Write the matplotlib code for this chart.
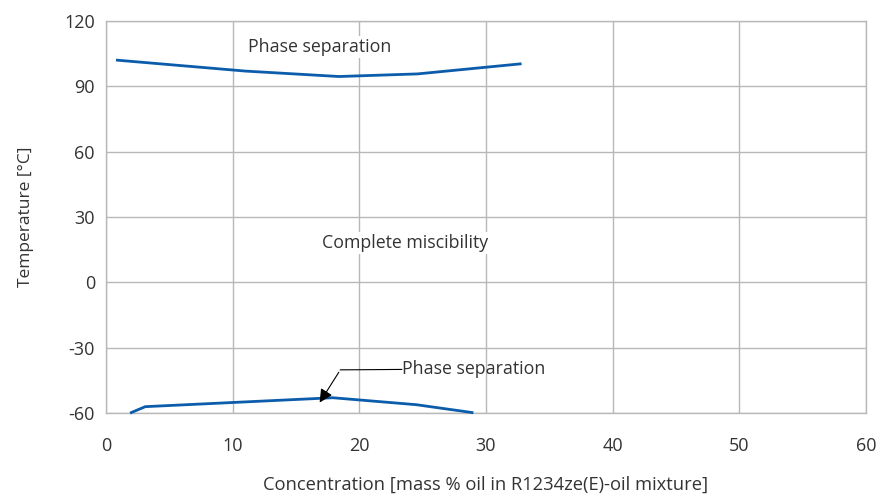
import matplotlib
matplotlib.use("Agg")
import matplotlib.pyplot as plt

upper_x = [0.9, 11.0, 18.4, 24.6, 32.7]
upper_y = [102.0, 97.0, 94.5, 95.7, 100.3]
lower_x = [2.0, 3.1, 17.9, 24.5, 28.9]
lower_y = [-59.8, -57.1, -53.0, -56.2, -59.8]

xticks = [0, 10, 20, 30, 40, 50, 60]
yticks = [-60, -30, 0, 30, 60, 90, 120]

plt.rcParams['font.family'] = ['Open Sans', 'DejaVu Sans']
txt = '#333333'
grid = '#b8b8b8'
blue = '#0b5cab'

fig = plt.figure(figsize=(8.84, 4.95), dpi=100)
ax = fig.add_axes([0.1199, 0.1657, 0.8597, 0.7919])
ax.set_xlim(0, 60)
ax.set_ylim(-60, 120)
ax.set_xticks(xticks)
ax.set_yticks(yticks)
ax.set_xticklabels([str(v) for v in xticks])
ax.set_yticklabels([str(v) for v in yticks])
ax.tick_params(length=0, labelsize=13, colors=txt)
ax.tick_params(axis='x', pad=17)
ax.tick_params(axis='y', pad=8)
ax.grid(True, color=grid, linewidth=1.0)
ax.set_axisbelow(True)
for s in ax.spines.values():
    s.set_color(grid)
    s.set_linewidth(1.0)

ax.plot(upper_x, upper_y, color=blue, linewidth=2.0, clip_on=False, zorder=3)
ax.plot(lower_x, lower_y, color=blue, linewidth=2.0, clip_on=False, zorder=3)

ax.text(16.9, 108.0, "Phase separation", ha='center', va='center', fontsize=12.8, color=txt,
        bbox=dict(facecolor='white', edgecolor='none', pad=1.5), zorder=4)
ax.text(23.6, 18.0, "Complete miscibility", ha='center', va='center', fontsize=12.8, color=txt,
        bbox=dict(facecolor='white', edgecolor='none', pad=1.5), zorder=4)

ax.text(23.35, -40.0, "Phase separation", ha='left', va='center', fontsize=12.8, color=txt, zorder=4)
ax.plot([23.35, 18.5], [-40.0, -40.2], color='black', linewidth=0.8, zorder=4)
ax.annotate("", xy=(16.75, -56.3), xytext=(18.5, -40.2),
            arrowprops=dict(arrowstyle='-|>', color='black', lw=0.8, mutation_scale=20), zorder=4)

ax.set_xlabel("Concentration [mass % oil in R1234ze(E)-oil mixture]", fontsize=13.2, color=txt, labelpad=15)
ax.set_ylabel("Temperature [°C]", fontsize=12.5, color=txt, labelpad=22)

fig.savefig("out.png", dpi=100)
